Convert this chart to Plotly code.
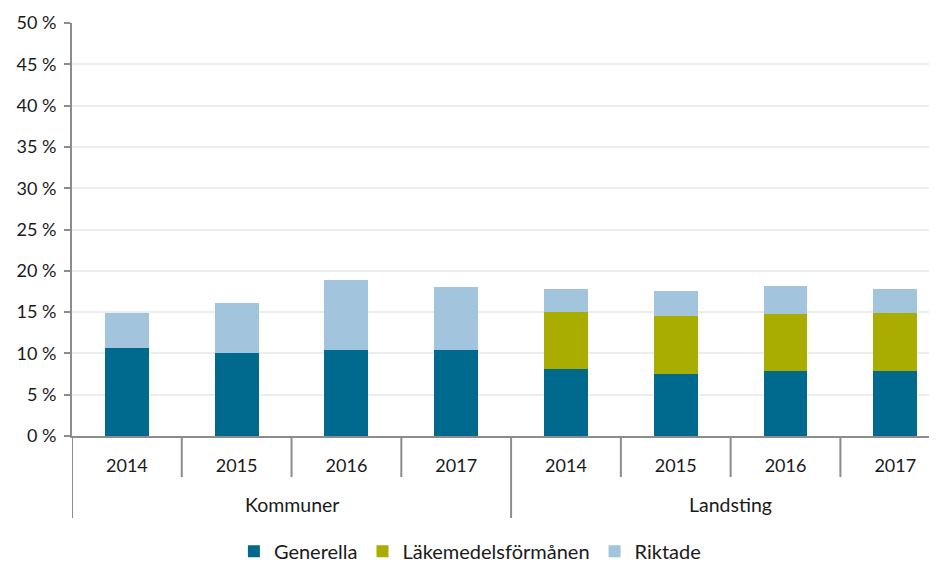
import plotly.graph_objects as go

group_names = ["Kommuner", "Landsting"]
year_labels = ["2014", "2015", "2016", "2017"]
groups = ["Kommuner"] * 4 + ["Landsting"] * 4
years = year_labels * 2
generella = [10.6, 10.05, 10.45, 10.4, 8.1, 7.55, 7.9, 7.85]
lakemedel = [0, 0, 0, 0, 6.9, 7.0, 6.9, 7.05]
riktade = [4.35, 6.0, 8.4, 7.6, 2.85, 3.05, 3.3, 2.85]
y_ticks = list(range(0, 51, 5))

categories = [f"{g} {y}" for g, y in zip(groups, years)]

series = [
    ("Generella", generella, "#006A8E"),
    ("Läkemedelsförmånen", lakemedel, "#A8AD00"),
    ("Riktade", riktade, "#A2C4DC"),
]

FONT = "Lato, Open Sans, sans-serif"
AXIS_COLOR = "#8c8c8c"

fig = go.Figure()
for name, vals, color in series:
    fig.add_trace(go.Bar(
        x=categories, y=vals, name=name,
        marker=dict(color=color, line=dict(width=0)),
    ))

# divider lines between categories (short) and groups (long)
n = len(categories)
per_group = len(year_labels)
shapes = []
for k in range(n):
    xb = k - 0.5
    is_group = (k % per_group == 0)
    shapes.append(dict(
        type="line", xref="x", yref="paper",
        x0=xb, x1=xb, y0=0, y1=(-0.1985 if is_group else -0.0995),
        line=dict(color=AXIS_COLOR, width=2), layer="above",
    ))

annotations = []
for gi, g in enumerate(group_names):
    center = gi * per_group + (per_group - 1) / 2
    annotations.append(dict(
        x=center, xref="x", y=-0.167, yref="paper",
        text=g, showarrow=False, xanchor="center", yanchor="middle",
        font=dict(family=FONT, size=19.5, color="#1a1a1a"),
    ))

fig.update_layout(
    barmode="stack",
    bargap=0.6,
    width=929, height=554,
    margin=dict(l=64, r=0, t=15, b=126, autoexpand=False),
    plot_bgcolor="white", paper_bgcolor="white",
    font=dict(family=FONT, size=18, color="#1a1a1a"),
    showlegend=True,
    legend=dict(orientation="h", x=0.46, xanchor="center", y=-0.279, yanchor="middle",
                font=dict(size=20), traceorder="normal", itemwidth=30),
    shapes=shapes,
    annotations=annotations,
    xaxis=dict(
        type="category", automargin=False,
        range=[-0.5, 7.38],
        tickvals=categories, ticktext=years,
        showline=True, linecolor=AXIS_COLOR, linewidth=2,
        ticks="", ticklabelstandoff=12,
        tickfont=dict(size=18),
    ),
    yaxis=dict(
        automargin=False,
        range=[0, 50], tickvals=y_ticks, ticktext=[f"{v} %" for v in y_ticks],
        showgrid=True, gridcolor="#EDEDED", gridwidth=2,
        showline=True, linecolor=AXIS_COLOR, linewidth=2,
        ticks="outside", ticklen=6, tickcolor=AXIS_COLOR, tickwidth=2,
        ticklabelstandoff=4,
        zeroline=False, tickfont=dict(size=18),
    ),
)

fig.write_html("out.html")
